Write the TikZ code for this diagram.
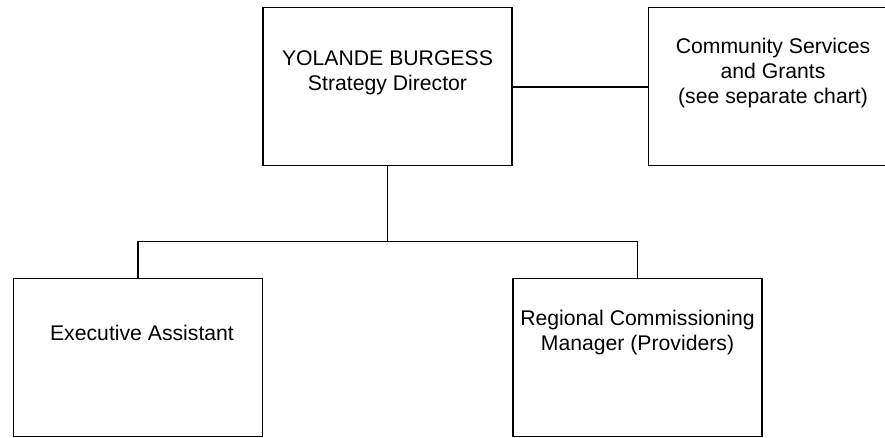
\documentclass[tikz,border=0pt]{standalone}
\usepackage{fontspec}
\setmainfont{Liberation Sans}
\tikzset{
  post/.style={draw=black,line width=1.5pt,rectangle,minimum width=249pt,minimum height=158pt,inner sep=0pt},
  posttext/.style={align=center,font=\fontsize{21.2}{25}\selectfont,inner sep=0pt},
  link/.style={line width=1.5pt}
}
\begin{document}
\begin{tikzpicture}[x=1pt,y=-1pt]
        \useasboundingbox (0,0) rectangle (885,438);
        \clip (0,0) rectangle (885,438);
        \node[post] (dir)   at (387.5, 86.5) {};
        \node[post] (csg)   at (773.0, 86.5) {};
        \node[post] (ea)    at (138.0,357.5) {};
        \node[post] (rcm)   at (637.5,357.5) {};
        \coordinate (split) at (387.5,241.5);

        \node[posttext] (dirtext) at (387.5, 73.0) {YOLANDE BURGESS\\Strategy Director};
        \node[posttext] (csgtext) at (773.0, 73.5) {Community Services\\and Grants\\(see separate chart)};
        \node[posttext] (eatext)  at (142.0,333.0) {Executive Assistant};
        \node[posttext] (rcmtext) at (637.5,333.0) {Regional Commissioning\\Manager (Providers)};

        \draw[link] (dir.east) ++(0,0.5) -- (csg.west |- 0,87);
        \draw[link] (dir.south) -- (split);
        \draw[link] (split) -| (ea.north);
        \draw[link] (split) -| (rcm.north);
      \end{tikzpicture}
\end{document}
